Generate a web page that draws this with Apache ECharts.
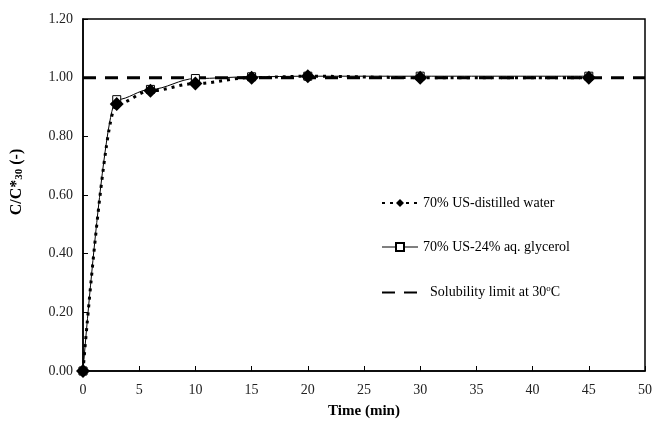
<!DOCTYPE html>
<html><head><meta charset="utf-8">
<script src="https://cdn.jsdelivr.net/npm/echarts@6/dist/echarts.min.js"></script>
<style>html,body{margin:0;padding:0;background:#fff}#c{width:655px;height:428px}</style>
</head><body><div id="c"></div>
<script>
var timeMin = [0, 3, 6, 10, 15, 20, 30, 45];
var waterVals = [0, 0.91, 0.955, 0.98, 1.0, 1.005, 1.0, 1.0];
var glycerolVals = [0, 0.925, 0.96, 0.997, 1.003, 1.005, 1.005, 1.005];
var solubilityX = [0, 50];
var solubilityVals = [1.0, 1.0];
var seriesNames = ['70% US-distilled water', '70% US-24% aq. glycerol', 'Solubility limit at 30°C'];

function pairs(xs, ys){ return xs.map(function(x,i){return [x, ys[i]];}); }
var font = '"Liberation Serif", "Times New Roman", serif';
var chart = echarts.init(document.getElementById('c'));
chart.setOption({
  animation: false,
  textStyle: {fontFamily: font},
  grid: {left: 83, right: 9, top: 19, bottom: 57, show: true, borderColor: '#000', borderWidth: 1.5},
  xAxis: {
    type: 'value', min: 0, max: 50, interval: 5,
    name: 'Time (min)', nameLocation: 'middle', nameGap: 33,
    nameTextStyle: {fontFamily: font, fontWeight: 'bold', fontSize: 15, color: '#000'},
    axisLine: {lineStyle: {color: '#000', width: 1.5}},
    axisTick: {inside: true, length: 5, lineStyle: {color: '#000'}},
    axisLabel: {fontFamily: font, fontSize: 14, color: '#222', margin: 12},
    splitLine: {show: false}
  },
  yAxis: {
    type: 'value', min: 0, max: 1.2, interval: 0.2,
    name: '{a|C/C*}{s|30}{a| (-)}', nameLocation: 'middle', nameGap: 58, nameRotate: 90,
    nameTextStyle: {padding: [0, 0, 0, 26], rich: {
      a: {fontFamily: font, fontWeight: 'bold', fontSize: 16, color: '#000'},
      s: {fontFamily: font, fontWeight: 'bold', fontSize: 11, color: '#000', verticalAlign: 'bottom', padding: [6,0,0,0]}
    }},
    axisLine: {lineStyle: {color: '#000', width: 1.5}},
    axisTick: {inside: true, length: 5, lineStyle: {color: '#000'}},
    axisLabel: {fontFamily: font, fontSize: 14, color: '#222', margin: 10,
      formatter: function(v){return v.toFixed(2);}},
    splitLine: {show: false}
  },
  legend: {
    data: [
      {name: seriesNames[0]},
      {name: seriesNames[1], lineStyle: {width: 1}},
      {name: seriesNames[2], itemStyle: {opacity: 0}}
    ],
    orient: 'vertical', left: 376, top: 191, itemGap: 30,
    itemWidth: 36, itemHeight: 10,
    textStyle: {fontFamily: font, fontSize: 14, color: '#000',
      rich: {t: {fontFamily: font, fontSize: 14, color: '#000'}, sup: {fontFamily: font, fontSize: 9, color: '#000', verticalAlign: 'top', padding: [0,0,8,0]}}},
    formatter: function(n){
      if (n.indexOf('30°C') >= 0) return '{t|  Solubility limit at 30}{sup|o}{t|C}';
      return '{t|' + n + '}';
    }
  },
  series: [
    {name: seriesNames[2], type: 'line', data: pairs(solubilityX, solubilityVals), symbol: 'none',
     lineStyle: {color: '#000', width: 3, type: [13, 9]}, itemStyle: {color: '#000'}, z: 1},
    {name: seriesNames[1], type: 'line', data: pairs(timeMin, glycerolVals), smooth: 0.35, smoothMonotone: 'x',
     symbol: 'rect', symbolSize: 8, showAllSymbol: true,
     lineStyle: {color: '#000', width: 1}, itemStyle: {color: '#fff', borderColor: '#000', borderWidth: 1}, z: 2},
    {name: seriesNames[0], type: 'line', data: pairs(timeMin, waterVals), smooth: 0.35, smoothMonotone: 'x',
     symbol: 'diamond', symbolSize: 14, showAllSymbol: true,
     lineStyle: {color: '#000', width: 3, type: [3, 5]}, itemStyle: {color: '#000'}, z: 3}
  ]
});
</script></body></html>
